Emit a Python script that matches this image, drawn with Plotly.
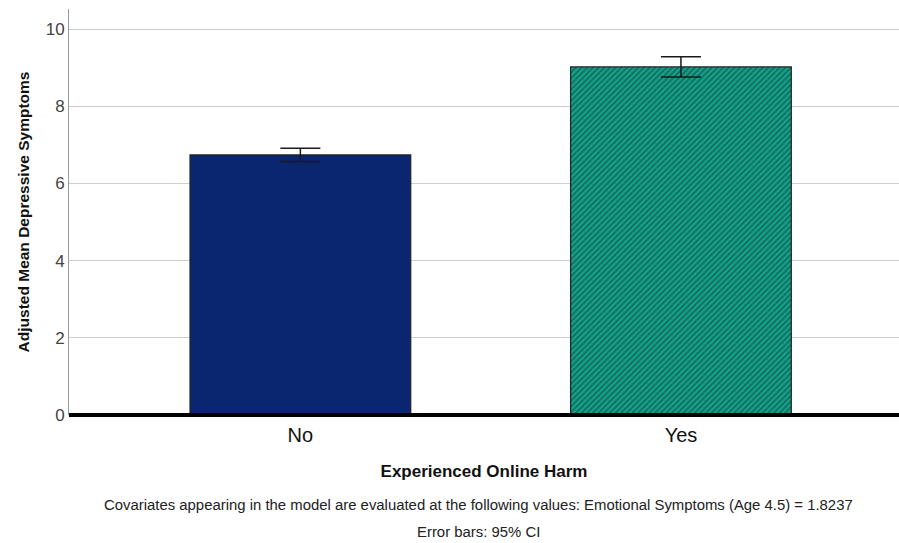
import plotly.graph_objects as go

categories = ["No", "Yes"]
means = [6.74, 9.02]
ci_upper = [6.91, 9.28]
ci_lower = [6.57, 8.76]
bar_colors = ["#0b2670", "#14a68c"]
yticks = [0, 2, 4, 6, 8, 10]

err_plus = [u - m for u, m in zip(ci_upper, means)]
err_minus = [m - l for m, l in zip(means, ci_lower)]

fig = go.Figure()
for i, cat in enumerate(categories):
    pattern = dict(shape="/", fgcolor="#0f3533", bgcolor=bar_colors[i], size=4, solidity=0.5) if i == 1 else dict(shape="")
    fig.add_trace(go.Bar(
        x=[cat], y=[means[i]],
        width=0.58,
        marker=dict(color=bar_colors[i], line=dict(color="#222222", width=1.2), pattern=pattern),
        error_y=dict(type="data", symmetric=False, array=[err_plus[i]], arrayminus=[err_minus[i]],
                     color="#1a1a1a", thickness=1.5, width=20),
        showlegend=False,
    ))

fig.update_layout(
    width=899, height=543,
    margin=dict(l=69, r=0, t=9, b=128),
    plot_bgcolor="white", paper_bgcolor="white",
    barmode="overlay",
    font=dict(family="Liberation Sans, Arial, sans-serif"),
    xaxis=dict(
        type="category", categoryorder="array", categoryarray=categories,
        range=[-0.608, 1.573],
        showgrid=False, showline=False, ticks="",
        tickfont=dict(size=20, color="#111111"),
        ticklabelstandoff=6,
        title=dict(text="<b>Experienced Online Harm</b>", font=dict(size=17, color="#111111"), standoff=20),
    ),
    yaxis=dict(
        range=[0, 10.52],
        tickvals=yticks,
        showgrid=True, gridcolor="#cfcfcf", gridwidth=1,
        showline=True, linecolor="#9a9a9a", linewidth=1,
        zeroline=False, ticks="",
        tickfont=dict(size=17, color="#444444"),
        title=dict(text="<b>Adjusted Mean Depressive Symptoms</b>",
                   font=dict(size=15.5, color="#111111"),
                   standoff=12),
    ),
    shapes=[dict(type="line", xref="paper", yref="paper", x0=0, x1=1, y0=0, y1=0,
                 line=dict(color="#000000", width=4), layer="above")],
    annotations=[
        dict(text="Covariates appearing in the model are evaluated at the following values: Emotional Symptoms (Age 4.5) = 1.8237",
             xref="paper", yref="paper", x=(478 - 69) / 830, y=(415 - 505) / 406, showarrow=False,
             xanchor="center", yanchor="middle",
             font=dict(size=14.9, color="#222222")),
        dict(text="Error bars: 95% CI",
             xref="paper", yref="paper", x=(478 - 69) / 830, y=(415 - 532) / 406, showarrow=False,
             xanchor="center", yanchor="middle",
             font=dict(size=14.9, color="#222222")),
    ],
)

fig.write_html("out.html")
